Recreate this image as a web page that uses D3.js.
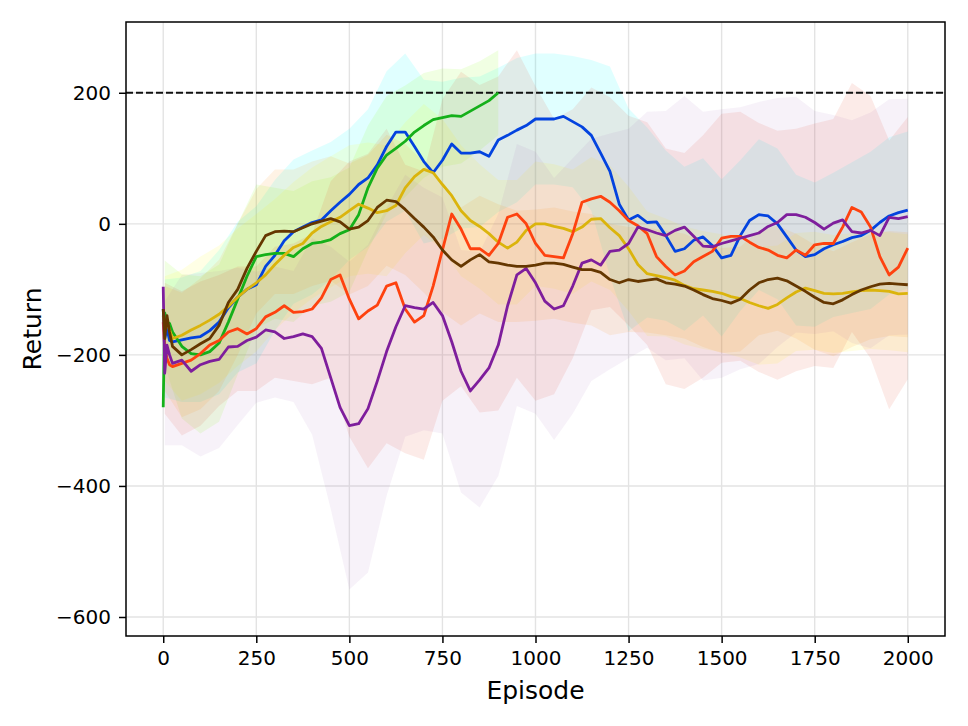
<!DOCTYPE html>
<html>
<head>
<meta charset="utf-8">
<script src="https://cdn.jsdelivr.net/npm/d3@7"></script>
<style>
  html, body { margin: 0; padding: 0; background: #fff; }
  svg { display: block; }
  text { font-family: "DejaVu Sans", sans-serif; fill: #000; }
</style>
</head>
<body>
<svg id="chart" width="968" height="726"></svg>
<script>
// ---------------- data ----------------
const episodes = [0, 4, 10, 17, 25, 50, 75, 100, 125, 150, 175, 200, 225, 250, 275, 300, 325, 350, 375, 400,
  425, 450, 475, 500, 525, 550, 575, 600, 625, 650, 675, 700, 725, 750, 775, 800, 825, 850, 875, 900,
  925, 950, 975, 1000, 1025, 1050, 1075, 1100, 1125, 1150, 1175, 1200, 1225, 1250, 1275, 1300, 1325, 1350, 1375, 1400,
  1425, 1450, 1475, 1500, 1525, 1550, 1575, 1600, 1625, 1650, 1675, 1700, 1725, 1750, 1775, 1800, 1825, 1850, 1875, 1900,
  1925, 1950, 1975, 2000];

const blueMean = [-130, -175, -160, -178, -180, -177, -174, -172, -163, -150, -128, -112, -100, -93, -65, -48, -26, -12, -5, 2,
  6, 20, 33, 45, 60, 70, 90, 118, 140, 140, 118, 95, 78, 97, 122, 108, 108, 110, 103, 128,
  135, 143, 150, 160, 160, 160, 164, 156, 148, 135, 108, 80, 30, 6, 13, 2, 3, -18, -42, -38,
  -25, -20, -33, -52, -48, -18, 5, 14, 12, 0, -20, -40, -50, -47, -38, -32, -27, -21, -18, -10,
  2, 12, 17, 21];

const greenMean = [-280, -136, -150, -152, -165, -187, -198, -200, -195, -182, -150, -115, -80, -50, -47, -45, -45, -50, -38, -30,
  -28, -24, -15, -9, 14, 55, 85, 105, 115, 126, 140, 150, 159, 162, 165, 164, 172, 180, 188, 200];

const yellowMean = [-140, -160, -150, -162, -175, -170, -162, -155, -147, -138, -126, -112, -100, -90, -78, -62, -48, -36, -30, -14,
  -4, 3, 10, 20, 30, 24, 17, 20, 28, 55, 72, 83, 78, 60, 43, 20, 5, -4, -15, -28,
  -37, -28, -10, 0, 0, -4, -7, -12, -5, 7, 8, -6, -18, -38, -62, -76, -79, -82, -86, -94,
  -99, -101, -103, -106, -111, -114, -120, -125, -129, -123, -113, -104, -98, -102, -106, -107, -106, -104, -102, -101,
  -102, -103, -107, -106];

const brownMean = [-130, -175, -140, -165, -187, -200, -192, -183, -175, -155, -120, -100, -68, -42, -18, -12, -11, -12, -6, 0,
  4, 8, 3, -8, -5, 5, 25, 36, 34, 22, 8, -5, -20, -40, -55, -65, -55, -47, -58, -60,
  -63, -65, -65, -63, -60, -60, -62, -66, -70, -70, -74, -85, -90, -85, -88, -86, -84, -90, -92, -95,
  -101, -108, -114, -117, -121, -115, -101, -90, -85, -83, -87, -95, -103, -112, -120, -122, -116, -108, -101, -96,
  -92, -91, -92, -93];

const orangeMean = [-150, -190, -205, -215, -218, -213, -208, -198, -185, -178, -165, -160, -168, -160, -142, -135, -125, -135, -134, -130,
  -113, -85, -78, -115, -145, -133, -124, -95, -90, -130, -150, -140, -95, -40, 15, -8, -38, -38, -48, -30,
  10, 15, 0, -30, -48, -50, -52, -15, 33, 38, 42, 33, 20, 5, -3, -15, -50, -65, -78, -72,
  -58, -50, -42, -22, -19, -19, -28, -36, -40, -48, -52, -40, -48, -32, -30, -30, -5, 25, 18, -5,
  -50, -78, -66, -37];

const purpleMean = [-96, -228, -185, -200, -213, -208, -225, -215, -210, -207, -188, -187, -178, -173, -162, -165, -175, -172, -168, -172,
  -190, -235, -280, -308, -305, -282, -240, -195, -157, -125, -128, -130, -120, -140, -180, -225, -255, -238, -220, -185,
  -125, -78, -68, -90, -118, -130, -125, -95, -60, -55, -63, -42, -40, -30, -5, -9, -14, -18, -10, -5,
  -19, -34, -35, -30, -26, -22, -18, -14, -4, 2, 14, 14, 10, 2, -8, 1, 6, -12, -14, -10,
  -18, 10, 8, 11];

// spread (std) of each run, read at these episodes
const bandEpisodes = [4, 50, 100, 150, 200, 250, 300, 350, 400, 450, 500, 550, 600, 650, 700, 750, 800, 850, 900, 950,
  1000, 1050, 1100, 1150, 1200, 1250, 1300, 1350, 1400, 1450, 1500, 1550, 1600, 1650, 1700, 1750, 1800, 1850, 1900, 1950, 2000];

const blueStd = [90, 95, 100, 110, 115, 120, 115, 110, 110, 105, 100, 105, 115, 120, 125, 120, 115, 115, 110, 110,
  100, 100, 100, 115, 160, 170, 145, 130, 125, 120, 120, 115, 115, 115, 115, 110, 110, 115, 120, 120, 120];
const greenStd = [80, 110, 120, 120, 115, 110, 100, 100, 95, 95, 95, 95, 90, 85, 80, 75, 72, 68, 65];
const yellowStd = [80, 100, 105, 105, 105, 105, 100, 100, 100, 100, 100, 100, 100, 100, 100, 100, 100, 95, 95, 95,
  95, 95, 95, 95, 95, 95, 95, 90, 90, 90, 90, 90, 90, 90, 90, 90, 90, 90, 90, 90, 90];
const brownStd = [80, 95, 100, 100, 100, 95, 95, 95, 95, 95, 100, 100, 100, 100, 100, 95, 90, 90, 90, 85,
  85, 85, 85, 85, 85, 80, 80, 80, 80, 80, 80, 80, 80, 80, 80, 80, 80, 80, 80, 80, 80];
const orangeStd = [100, 110, 110, 100, 95, 95, 100, 105, 115, 150, 210, 240, 240, 220, 220, 230, 240, 250, 255, 250,
  240, 210, 190, 170, 160, 160, 170, 180, 180, 185, 190, 190, 190, 190, 185, 185, 190, 190, 200, 205, 200];
const purpleStd = [110, 130, 140, 135, 120, 100, 100, 100, 150, 200, 250, 250, 220, 200, 185, 180, 185, 195, 200, 200,
  200, 200, 195, 185, 180, 175, 180, 190, 200, 205, 205, 200, 200, 190, 180, 170, 165, 170, 180, 180, 180];

const xTicks = [0, 250, 500, 750, 1000, 1250, 1500, 1750, 2000];
const yTicks = [-600, -400, -200, 0, 200];
const targetReturn = 200;

// ---------------- layout ----------------
const svg = d3.select("#chart");
const L = 126, R = 945, T = 22, B = 636;
const x = d3.scaleLinear().domain([-100, 2100]).range([L, R]);
const y = d3.scaleLinear().domain([-629, 308]).range([B, T]);

const series = [
  { mean: blueMean,   std: blueStd,   line: "#0343df", fill: "#00ffff", op: 0.12 },
  { mean: greenMean,  std: greenStd,  line: "#15b01a", fill: "#7fff00", op: 0.11 },
  { mean: yellowMean, std: yellowStd, line: "#dbb40c", fill: "#ffff00", op: 0.10 },
  { mean: orangeMean, std: orangeStd, line: "#fe420f", fill: "#e8452c", op: 0.11 },
  { mean: purpleMean, std: purpleStd, line: "#7e1e9c", fill: "#9b59b6", op: 0.08 },
  { mean: brownMean,  std: brownStd,  line: "#653700", fill: "#ff8c00", op: 0.10 }
];

const defs = svg.append("defs");
defs.append("clipPath").attr("id", "plotclip")
  .append("rect").attr("x", L).attr("y", T).attr("width", R - L).attr("height", B - T);

// grid
const grid = svg.append("g");
grid.selectAll("line.gx").data(xTicks).join("line")
  .attr("x1", d => x(d)).attr("x2", d => x(d)).attr("y1", T).attr("y2", B)
  .attr("stroke", "#e3e3e3").attr("stroke-width", 1.4);
grid.selectAll("line.gy").data(yTicks).join("line")
  .attr("y1", d => y(d)).attr("y2", d => y(d)).attr("x1", L).attr("x2", R)
  .attr("stroke", "#e3e3e3").attr("stroke-width", 1.4);

const plot = svg.append("g").attr("clip-path", "url(#plotclip)");

// bands
const area = d3.area().x(d => x(d.e)).y0(d => y(d.lo)).y1(d => y(d.hi));
series.forEach(s => {
  const pts = [];
  s.std.forEach((sd, i) => {
    const e = bandEpisodes[i];
    const m = s.mean[episodes.indexOf(e)];
    pts.push({ e: e, lo: m - sd, hi: m + sd });
  });
  plot.append("path").datum(pts).attr("d", area)
    .attr("fill", s.fill).attr("fill-opacity", s.op).attr("stroke", "none");
});

// target line
plot.append("line")
  .attr("x1", L).attr("x2", R).attr("y1", y(targetReturn)).attr("y2", y(targetReturn))
  .attr("stroke", "#111").attr("stroke-width", 1.8).attr("stroke-dasharray", "7,3");

// mean lines
const line = d3.line().x((d, i) => x(episodes[i])).y(d => y(d));
series.forEach(s => {
  plot.append("path").datum(s.mean).attr("d", line)
    .attr("fill", "none").attr("stroke", s.line).attr("stroke-width", 2.8)
    .attr("stroke-linejoin", "round");
});

// axes
const fmt = d => (d < 0 ? "\u2212" + Math.abs(d) : String(d));
const xAxis = svg.append("g").attr("transform", `translate(0,${B})`)
  .call(d3.axisBottom(x).tickValues(xTicks).tickFormat(fmt).tickSizeOuter(0).tickSize(7).tickPadding(8));
const yAxis = svg.append("g").attr("transform", `translate(${L},0)`)
  .call(d3.axisLeft(y).tickValues(yTicks).tickFormat(fmt).tickSizeOuter(0).tickSize(7).tickPadding(8));
[xAxis, yAxis].forEach(a => {
  a.select(".domain").remove();
  a.selectAll(".tick line").attr("stroke", "#000").attr("stroke-width", 1.5);
  a.selectAll(".tick text").attr("font-size", 20).attr("font-family", "DejaVu Sans").attr("fill", "#000");
});

// frame
svg.append("rect").attr("x", L).attr("y", T).attr("width", R - L).attr("height", B - T)
  .attr("fill", "none").attr("stroke", "#000").attr("stroke-width", 1.5);

// labels
svg.append("text").attr("x", (L + R) / 2).attr("y", 699).attr("text-anchor", "middle")
  .attr("font-size", 25).text("Episode");
svg.append("text").attr("transform", `translate(41,${(T + B) / 2}) rotate(-90)`)
  .attr("text-anchor", "middle").attr("font-size", 25).text("Return");
</script>
</body>
</html>
